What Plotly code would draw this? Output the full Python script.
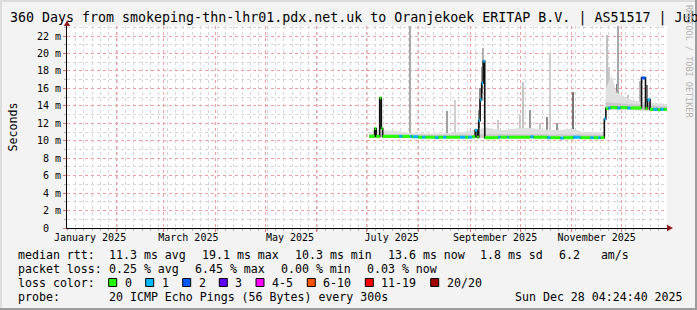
import plotly.graph_objects as go

# ---------------- data ----------------
title_text = "360 Days from smokeping-thn-lhr01.pdx.net.uk to Oranjekoek ERITAP B.V. | AS51517 | Jub"
x_start = "2025-01-02 04:24:40"
x_end = "2025-12-28 04:24:40"

month_starts = ["2025-02-01", "2025-03-01", "2025-04-01", "2025-05-01", "2025-06-01",
                "2025-07-01", "2025-08-01", "2025-09-01", "2025-10-01", "2025-11-01", "2025-12-01"]
month_label_pos = ["2025-01-16", "2025-03-16", "2025-05-16", "2025-07-16", "2025-09-16", "2025-11-16"]
month_labels = ["January 2025", "March 2025", "May 2025", "July 2025", "September 2025", "November 2025"]

y_tickvals = [0, 2, 4, 6, 8, 10, 12, 14, 16, 18, 20, 22]
y_ticktext = ["0\u00a0\u00a0", "2 m", "4 m", "6 m", "8 m", "10 m", "12 m", "14 m", "16 m", "18 m", "20 m", "22 m"]

# median RTT (ms) with number of lost pings per step
median_time = ["2025-07-02 10:00", "2025-07-05 19:00", "2025-07-06 17:00", "2025-07-08 19:00",
               "2025-07-09 19:00", "2025-07-10 14:00", "2025-07-20 12:00", "2025-07-22 07:00",
               "2025-07-27 00:00", "2025-07-28 00:00", "2025-07-28 22:00", "2025-07-31 22:00",
               "2025-08-03 07:00", "2025-08-05 02:00", "2025-08-11 02:00", "2025-08-12 22:00",
               "2025-08-15 22:00", "2025-08-17 17:00", "2025-08-26 02:00", "2025-08-29 02:00",
               "2025-08-30 22:00", "2025-09-02 07:00", "2025-09-04 02:00", "2025-09-05 07:00",
               "2025-09-06 05:00", "2025-09-07 02:00", "2025-09-08 00:00", "2025-09-08 22:00",
               "2025-09-09 20:00", "2025-09-17 22:00", "2025-09-19 05:00", "2025-09-23 10:00",
               "2025-09-24 07:00", "2025-10-07 05:00", "2025-10-09 00:00", "2025-10-17 10:00",
               "2025-10-19 05:00", "2025-10-25 05:00", "2025-10-27 00:00", "2025-11-02 00:00",
               "2025-11-06 05:00", "2025-11-12 05:00", "2025-11-14 00:00", "2025-11-17 00:00",
               "2025-11-18 05:00", "2025-11-20 14:00", "2025-11-21 12:00", "2025-11-23 00:00",
               "2025-11-24 05:00", "2025-11-28 10:00", "2025-11-30 05:00", "2025-12-04 12:00",
               "2025-12-06 05:00", "2025-12-12 22:00", "2025-12-15 07:00", "2025-12-16 12:00",
               "2025-12-18 00:00", "2025-12-20 02:00", "2025-12-22 12:00", "2025-12-24 07:00",
               "2025-12-26 02:00", "2025-12-28 04:24"]
median_ms = [10.5, 11.4, 10.5, 14.9,
             11.4, 10.5, 10.5, 10.5,
             10.5, 10.45, 10.45, 10.4,
             10.4, 10.4, 10.35, 10.4,
             10.4, 10.4, 10.4, 10.4,
             10.4, 10.45, 11.2, 10.4,
             12.3, 14.7, 16.6, 19.1,
             10.35, 10.4, 10.4, 10.4,
             10.4, 10.45, 10.4, 10.35,
             10.35, 10.3, 10.35, 10.4,
             10.35, 10.35, 10.35, 10.35,
             10.35, 12.5, 13.7, 13.75,
             13.8, 13.75, 13.8, 13.75,
             13.75, 17.2, 13.7, 14.7,
             13.6, 13.6, 13.55, 13.6,
             13.6, 13.6]
median_loss = [0, 0, 0, 0,
               0, 0, 1, 0,
               1, 0, 1, 0,
               1, 0, 1, 0,
               1, 0, 1, 0,
               1, 0, 1, 0,
               1, 1, 1, 1,
               0, 1, 0, 1,
               0, 1, 0, 1,
               0, 1, 0, 1,
               0, 1, 0, 1,
               0, 1, 0, 1,
               0, 1, 0, 1,
               0, 2, 0, 1,
               0, 1, 0, 1,
               0, 0]

# light smoke envelope
band_time = ["2025-07-02 10:00", "2025-07-06", "2025-07-12", "2025-07-20", "2025-07-28", "2025-08-08",
             "2025-08-20", "2025-08-28", "2025-09-04", "2025-09-11", "2025-09-20", "2025-09-28",
             "2025-10-06", "2025-10-15", "2025-10-24", "2025-11-01", "2025-11-08", "2025-11-15",
             "2025-11-20 12:00", "2025-11-21 12:00", "2025-11-25", "2025-11-28", "2025-12-03",
             "2025-12-08", "2025-12-12", "2025-12-18", "2025-12-23", "2025-12-28 04:24"]
band_low = [10.4, 10.4, 10.4, 10.4, 10.3, 10.3,
            10.3, 10.3, 10.3, 10.3, 10.3, 10.3,
            10.3, 10.2, 10.2, 10.2, 10.2, 10.2,
            10.3, 13.5, 13.5, 13.5, 13.5,
            13.5, 13.4, 13.4, 13.4, 13.4]
band_high = [10.9, 11.2, 11.2, 11.1, 10.9, 10.8,
             10.9, 11.0, 11.3, 11.5, 11.2, 11.4,
             11.5, 11.3, 11.2, 11.4, 11.0, 11.0,
             10.9, 16.0, 17.5, 15.5, 15.0,
             14.6, 14.5, 14.4, 14.3, 14.2]

# denser smoke close to the median
core_time = ["2025-07-02 10:00", "2025-08-15", "2025-09-20", "2025-10-20", "2025-11-20 12:00",
             "2025-11-21 12:00", "2025-12-05", "2025-12-18", "2025-12-28 04:24"]
core_low = [10.4, 10.35, 10.3, 10.3, 10.3, 13.6, 13.6, 13.5, 13.5]
core_high = [10.75, 10.7, 10.75, 10.7, 10.7, 14.4, 14.2, 14.0, 13.9]

# individual smoke spikes
spike_time = ["2025-07-27 00:00", "2025-08-18 00:00", "2025-08-23 00:00", "2025-09-06 05:00",
              "2025-09-07 02:00", "2025-09-08 00:00", "2025-09-08 22:00", "2025-09-18 00:00",
              "2025-10-01 00:00", "2025-10-03 00:00", "2025-10-07 00:00", "2025-10-13 00:00",
              "2025-10-17 00:00", "2025-10-19 00:00", "2025-10-23 00:00", "2025-11-02 00:00",
              "2025-11-22 00:00", "2025-11-23 12:00", "2025-11-25 00:00", "2025-11-28 00:00",
              "2025-11-29 00:00", "2025-12-05 00:00", "2025-12-12 00:00", "2025-12-16 12:00"]
spike_base = [10.5, 10.5, 10.5, 11.5,
              13.5, 15.5, 17.5, 10.5,
              10.5, 10.5, 10.5, 10.5,
              10.5, 10.5, 10.5, 10.4,
              13.7, 13.7, 13.7, 13.7,
              13.7, 13.7, 13.7, 13.7]
spike_top = [23.5, 13.4, 14.7, 13.5,
             16.0, 18.5, 20.6, 12.4,
             12.95, 16.7, 13.5, 12.0,
             12.75, 20.0, 12.0, 15.6,
             22.1, 18.5, 16.0, 16.5,
             23.5, 15.3, 16.8, 16.4]
spike_shade = ["#a9a9a9", "#a0a0a0", "#cfcfcf", "#8c8c8c",
               "#8c8c8c", "#9a9a9a", "#b0b0b0", "#cccccc",
               "#c8c8c8", "#c4c4c4", "#9a9a9a", "#c8c8c8",
               "#8c8c8c", "#cdcdcd", "#999999", "#777777",
               "#c0c0c0", "#c8c8c8", "#bdbdbd", "#7f7f7f",
               "#a8a8a8", "#c8c8c8", "#b8b8b8", "#808080"]

loss_labels = ["0", "1", "2", "3", "4-5", "6-10", "11-19", "20/20"]
loss_colors = ["#26ff00", "#00b8ff", "#0059ff", "#5e00ff", "#ff00ff", "#ff5500", "#ff0000", "#a10000"]

row_rtt = ["median rtt:", "11.3 ms avg", "19.1 ms max", "10.3 ms min", "13.6 ms now", "1.8 ms sd", "6.2   am/s"]
row_loss = ["packet loss:", "0.25 % avg", "6.45 % max", "0.00 % min", "0.03 % now"]
probe_label = "probe:"
probe_text = "20 ICMP Echo Pings (56 Bytes) every 300s"
stamp_text = "Sun Dec 28 04:24:40 2025"
watermark = "RRDTOOL / TOBI OETIKER"

# ---------------- layout helpers (pixel -> paper) ----------------
W, H = 697, 310
PL, PR, PT, PB = 67, 667, 26, 228


def fx(px):
    return (px - PL) / (PR - PL)


def fy(py):
    return (PB - py) / (PB - PT)


MONO = "DejaVu Sans Mono"
fig = go.Figure()

# smoke envelope
fig.add_trace(go.Scatter(x=band_time, y=band_low, mode="lines", line=dict(width=0, color="#dcdcdc"),
                         hoverinfo="skip"))
fig.add_trace(go.Scatter(x=band_time, y=band_high, mode="lines", line=dict(width=0, color="#dcdcdc"),
                         fill="tonexty", fillcolor="#e0e0e0", hoverinfo="skip"))
fig.add_trace(go.Scatter(x=core_time, y=core_low, mode="lines", line=dict(width=0, color="#bdbdbd"),
                         hoverinfo="skip"))
fig.add_trace(go.Scatter(x=core_time, y=core_high, mode="lines", line=dict(width=0, color="#bdbdbd"),
                         fill="tonexty", fillcolor="#c8c8c8", hoverinfo="skip"))

# spikes
fig.add_trace(go.Bar(x=spike_time, base=spike_base,
                     y=[t - b for t, b in zip(spike_top, spike_base)],
                     width=0.8 * 86400000, marker=dict(color=spike_shade, line=dict(width=0)),
                     hoverinfo="skip"))

# median line
fig.add_trace(go.Scatter(x=median_time, y=median_ms, mode="lines", line=dict(color="#111111", width=1.6, shape="hv"),
                         hoverinfo="skip"))
for ci, col in enumerate(loss_colors):
    xs, ys = [], []
    for i in range(len(median_time) - 1):
        if median_loss[i] == ci:
            xs += [median_time[i], median_time[i + 1], None]
            ys += [median_ms[i], median_ms[i], None]
    if xs:
        fig.add_trace(go.Scatter(x=xs, y=ys, mode="lines", line=dict(color=col, width=3),
                                 connectgaps=False, hoverinfo="skip"))

# invisible trace to carry the month label axis
fig.add_trace(go.Scatter(x=month_label_pos, y=[None] * len(month_label_pos), xaxis="x2", yaxis="y",
                         mode="markers", hoverinfo="skip", showlegend=False))

fig.update_layout(
    width=W, height=H,
    margin=dict(l=PL, r=W - PR, t=PT, b=H - PB, pad=0),
    paper_bgcolor="#f3f3f3", plot_bgcolor="#ffffff",
    showlegend=False, barmode="overlay", bargap=0,
    font=dict(family=MONO, color="#000000"),
    xaxis=dict(type="date", range=[x_start, x_end], tickmode="array", tickvals=month_starts,
               showticklabels=False, ticks="outside", ticklen=3, tickcolor="#e07070",
               showgrid=True, gridcolor="#f0a0a0", griddash="dot", gridwidth=1,
               showline=True, linecolor="#000000", linewidth=1, zeroline=False, fixedrange=True,
               minor=dict(tick0=x_start, dtick=5 * 86400000, showgrid=True, gridcolor="#d6d6d6",
                          griddash="dot", ticks="outside", ticklen=2, tickcolor="#b0b0b0")),
    xaxis2=dict(type="date", range=[x_start, x_end], overlaying="x", anchor="y", side="bottom",
                tickmode="array", tickvals=month_label_pos, ticktext=month_labels,
                showgrid=False, showline=False, zeroline=False, ticks="", ticklabelstandoff=2,
                tickfont=dict(family=MONO, size=10, color="#000000"), fixedrange=True),
    yaxis=dict(range=[0, 23.15], tickmode="array", tickvals=y_tickvals, ticktext=y_ticktext,
               ticks="outside", ticklen=3, tickcolor="#e07070",
               showgrid=True, gridcolor="#f0a0a0", griddash="dot", gridwidth=1,
               showline=True, linecolor="#000000", linewidth=1, zeroline=False, fixedrange=True,
               tickfont=dict(family=MONO, size=10, color="#000000"),
               minor=dict(dtick=1, showgrid=True, gridcolor="#d6d6d6", griddash="dot",
                          ticks="outside", ticklen=2, tickcolor="#b0b0b0")),
)

ann = []
ann.append(dict(text=title_text, x=fx(8), y=fy(18.5), xanchor="left", yanchor="middle",
                font=dict(family=MONO, size=13.3, color="#000000")))
ann.append(dict(text="Seconds", x=fx(12), y=fy(127.5), xanchor="center", yanchor="middle", textangle=-90,
                font=dict(family=MONO, size=11.6, color="#000000")))
ann.append(dict(text=watermark, x=fx(689), y=fy(61), xanchor="center", yanchor="middle", textangle=90,
                font=dict(family=MONO, size=8.5, color="#b4b4b4")))

row_rtt_x = [16, 107.3, 200, 292.7, 386, 478.3, 556.7]
for t, px in zip(row_rtt, row_rtt_x):
    ann.append(dict(text=t, x=fx(px), y=fy(255), xanchor="left", yanchor="middle",
                    font=dict(family=MONO, size=11.6)))
row_loss_x = [16, 107.3, 192.7, 278.7, 365]
for t, px in zip(row_loss, row_loss_x):
    ann.append(dict(text=t, x=fx(px), y=fy(269), xanchor="left", yanchor="middle",
                    font=dict(family=MONO, size=11.6)))
ann.append(dict(text="loss color:", x=fx(16), y=fy(283), xanchor="left", yanchor="middle",
                font=dict(family=MONO, size=11.6)))
swatch_x = [108.7, 145.7, 182.7, 219.3, 256, 307.3, 365.3, 430.7]
shapes = []
for lab, col, px in zip(loss_labels, loss_colors, swatch_x):
    shapes.append(dict(type="rect", xref="paper", yref="paper", x0=fx(px), x1=fx(px + 8),
                       y0=fy(286.5), y1=fy(278.5), fillcolor=col, line=dict(color="#000000", width=1)))
    ann.append(dict(text=lab, x=fx(px + 14), y=fy(283), xanchor="left", yanchor="middle",
                    font=dict(family=MONO, size=11.6)))
ann.append(dict(text=probe_label, x=fx(16), y=fy(296.5), xanchor="left", yanchor="middle",
                font=dict(family=MONO, size=11.6)))
ann.append(dict(text=probe_text, x=fx(107.3), y=fy(296.5), xanchor="left", yanchor="middle",
                font=dict(family=MONO, size=11.6)))
ann.append(dict(text=stamp_text, x=fx(513.3), y=fy(296.5), xanchor="left", yanchor="middle",
                font=dict(family=MONO, size=11.6)))
for a in ann:
    a.update(xref="paper", yref="paper", showarrow=False)

# axis arrows
arrow_col = "#8e1b1b"
shapes.append(dict(type="path", xref="paper", yref="paper",
                   path=f"M {fx(67)} {fy(20.5)} L {fx(63.8)} {fy(26)} L {fx(70.2)} {fy(26)} Z",
                   fillcolor=arrow_col, line=dict(width=0)))
shapes.append(dict(type="path", xref="paper", yref="paper",
                   path=f"M {fx(673)} {fy(228)} L {fx(667)} {fy(224.8)} L {fx(667)} {fy(231.2)} Z",
                   fillcolor=arrow_col, line=dict(width=0)))
# frame
shapes.append(dict(type="rect", xref="paper", yref="paper", x0=fx(0), x1=fx(697), y0=fy(310), y1=fy(308),
                   fillcolor="#9c9c9c", line=dict(width=0), layer="above"))
shapes.append(dict(type="rect", xref="paper", yref="paper", x0=fx(695), x1=fx(697), y0=fy(310), y1=fy(0),
                   fillcolor="#9c9c9c", line=dict(width=0), layer="above"))
shapes.append(dict(type="rect", xref="paper", yref="paper", x0=fx(0), x1=fx(695), y0=fy(2), y1=fy(0),
                   fillcolor="#dcdcdc", line=dict(width=0), layer="above"))
shapes.append(dict(type="rect", xref="paper", yref="paper", x0=fx(0), x1=fx(2), y0=fy(308), y1=fy(0),
                   fillcolor="#dcdcdc", line=dict(width=0), layer="above"))

fig.update_layout(annotations=ann, shapes=shapes)
fig.write_html("out.html")
